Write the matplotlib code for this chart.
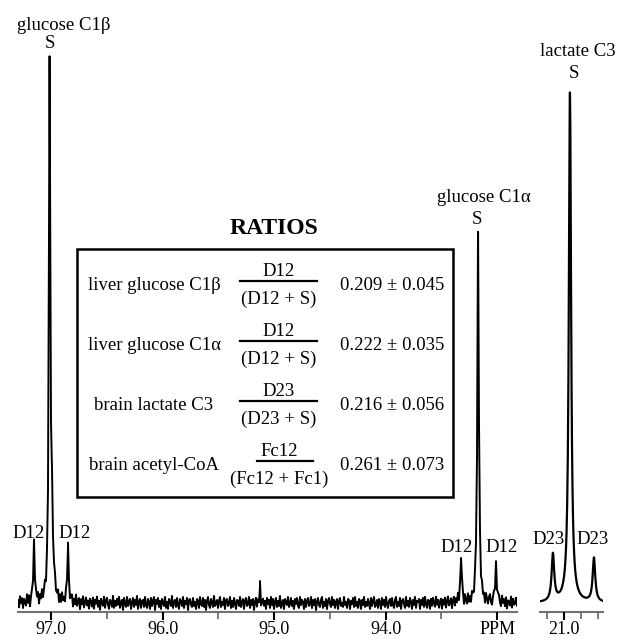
import numpy as np
import matplotlib.pyplot as plt
from matplotlib.lines import Line2D
from matplotlib.patches import Rectangle

plt.rcParams['font.family'] = ['Liberation Serif', 'DejaVu Serif']

W, H = 619, 640

# glucose C1 region: peak position (ppm), height (px above baseline), half width (ppm)
glc_ppm = [97.152, 97.013, 96.993, 96.848, 95.126, 93.323, 93.170, 93.009]
glc_height = [56, 524, 85, 53, 16, 44, 371, 40]
glc_hwhm = [0.008, 0.007, 0.012, 0.008, 0.004, 0.008, 0.008, 0.008]

# lactate C3 region
lac_ppm = [21.065, 20.965, 20.824]
lac_height = [47, 510, 44]
lac_hwhm = [0.009, 0.008, 0.009]

# baseline noise (px), left to right
baseline_noise = [
    2, -5, 6, -1, 4, -6, 3, 0, -4, 7, -2, 5, -7, 1, 4, -3, 6, -5, 2, -1, 5, -6, 3, -2, 6,
    -4, 1, 5, -7, 3, -2, 6, -5, 0, 4, -6, 2, 7, -3, -1, 5, -6, 3, -4, 6, -2, 1, -5, 4, -3,
    6, -1, -5, 3, 5, -6, 2, -3, 7, -4, 1, 4, -7, 3, -2, 6, -5, 0, 5, -3, 2, -6, 4, 1, -4,
    5, -6, 3, -1, 6, -4, 2, -7, 4, 0, -3, 6, -5, 2, 5, -2, -6, 3, 1, -4, 7, -5, 2, -3, 4,
    -2, 6, -5, 1, 3, -7, 5, -1, -4, 6, -3, 2, 4, -6, 0, 5, -4, 3, -2, 7, -6, 1, 4, -5, 2,
    3, -4, 6, -2, -5, 4, 1, -6, 5, -3, 2, 6, -7, 3, -1, 5, -4, 2, -6, 4, 0, -3, 6, -5, 1,
    -6, 4, 2, -3, 7, -5, 1, 3, -4, 5, -2, -6, 4, 1, -3, 6, -5, 2, -1, 5, -7, 3, 4, -2, -4,
    5, -3, 1, -6, 4, 2, -5, 6, -1, -3, 5, -4, 3, -7, 2, 6, -2, -5, 4, 1, -4, 7, -3, 0, 3,
    -5, 2, 6, -4, 1, -2, 5, -6, 3, 4, -3, -1, 6, -5, 2, -4, 5, 0, -6, 3, 2, -3, 6, -4, 1,
    4, -6, 2, 5, -3, -1, 6, -5, 3, -2, 4, -7, 1, 5, -4, 3, -2, 6, -5, 0, 4, -3, 2, -6, 5,
    -1, 3, -5, 6, -2, 4, -6, 1, 5, -4, 2, -3, 7, -5, 0, 3, -6, 4, 1, -2, 6, -4, -1, 5, -3,
    2, -6, 4, -1, 5, -3, -5, 6, -2, 3, 1, -6, 4, -4, 2, 5, -3, -1, 6, -5, 3, -2, 4, -7, 1,
    5, -2, -4, 3, 6, -5, 1, -3, 4, -6, 2, 5, -1, -4, 6, -2, 3, -5, 1, 4, -6, 2, 5, -3, 0,
    -4, 6, -2, 1, -5, 4, 3, -6, 2, -1, 5, -4, 6, -3, 1, -5, 4, 2, -6, 3, -2, 6, -4, 1, -3,
    4, -1, -6, 5, -3, 2, 6, -4, -2, 3, -5, 4, 1, -6, 5, -2, 3, -4, 6, -1, -5, 2, 4, -3, 5,
    -2, -5, 3, 6, -4, 1, -3, 5, -6, 2, 4, -1, -5, 6, -3, 2, -4, 5, 1, -6, 3, -2, 6, -5, 2,
    1, 4, -6, 3, -2, 5, -4, 6, -1, -5, 3, 2, -6, 4, -3, 5, 0, -4, 6, -2, 3, -5, 1, 4, -6,
    3, -2, 5, -5, 1, 6, -3, -1, 4, -6, 2, 5, -4, 3, -2, 6, -5, 1, -3, 4, 2, -6, 5, -1, -4,
    6, -3, 2, -5, 4, -1, -6, 5, 3, -4, 1, -2, 6, -5, 4, -3, 2, -6, 5, 0, -4, 3, 6, -2, -5,
    2, 5, -4, 1, -6, 3, 4, -2, -5, 6, -1, 3, -4, 5, -6, 2, 1, -3, 6, -5, 4, -2, -1, 5, -3,
]

glc_ticks = [97.0, 96.0, 95.0, 94.0, 93.0]
glc_ticklabels = ['97.0', '96.0', '95.0', '94.0', 'PPM']
glc_minor = [96.5, 95.5, 94.5, 93.5]
lac_ticks = [21.0]
lac_ticklabels = ['21.0']
lac_minor = [21.1, 20.9, 20.8]

ratio_names = ['liver glucose C1\u03b2', 'liver glucose C1\u03b1',
               'brain lactate C3', 'brain acetyl-CoA']
ratio_num = ['D12', 'D12', 'D23', 'Fc12']
ratio_den = ['(D12 + S)', '(D12 + S)', '(D23 + S)', '(Fc12 + Fc1)']
ratio_val = ['0.209 \u00b1 0.045', '0.222 \u00b1 0.035',
             '0.216 \u00b1 0.056', '0.261 \u00b1 0.073']


def lorentz_sum(x, centers, heights, widths):
    y = np.zeros_like(x)
    for c, h, w in zip(centers, heights, widths):
        y += h / (1 + ((x - c) / w) ** 2)
    return y


def fx(x):
    return x / W


def fy(y):
    return 1 - y / H


fig = plt.figure(figsize=(W / 100, H / 100), dpi=100)

ax_bottom, ax_top = 611.5, 30
ylim = (-(ax_bottom - 603), 603 - ax_top)
ax1 = fig.add_axes([fx(18), fy(ax_bottom), 499 / W, (ax_bottom - ax_top) / H])
ax2 = fig.add_axes([fx(540), fy(ax_bottom), 63 / W, (ax_bottom - ax_top) / H])

glc_lim = (97.296, 92.821)
lac_lim = (21.141, 20.771)

# glucose trace: noise samples plus the peak centres
grid = np.linspace(glc_lim[0], glc_lim[1], len(baseline_noise))
x1 = np.concatenate([grid, glc_ppm])
y1 = np.concatenate([baseline_noise, np.zeros(len(glc_ppm))])
order = np.argsort(x1)
x1, y1 = x1[order], y1[order]
y1 = y1 + lorentz_sum(x1, glc_ppm, glc_height, glc_hwhm)
ax1.plot(x1, y1, color='black', lw=1.4, zorder=3)

x2 = np.sort(np.concatenate([np.linspace(lac_lim[0], lac_lim[1], 300), lac_ppm]))
y2 = lorentz_sum(x2, lac_ppm, lac_height, lac_hwhm)
ax2.plot(x2, y2, color='black', lw=1.6, zorder=3)

for ax, lim, maj, lab, mnr in [(ax1, glc_lim, glc_ticks, glc_ticklabels, glc_minor),
                               (ax2, lac_lim, lac_ticks, lac_ticklabels, lac_minor)]:
    ax.set_xlim(*lim)
    ax.set_ylim(*ylim)
    ax.patch.set_visible(False)
    for s in ['top', 'left', 'right']:
        ax.spines[s].set_visible(False)
    ax.spines['bottom'].set_color('0.45')
    ax.spines['bottom'].set_linewidth(1.5)
    ax.spines['bottom'].set_zorder(1)
    ax.set_yticks([])
    ax.set_xticks(maj)
    ax.set_xticklabels(lab)
    ax.set_xticks(mnr, minor=True)
    ax.tick_params(axis='x', which='major', direction='out', length=6, width=1.5,
                   color='black', labelsize=13, pad=0.5)
    ax.tick_params(axis='x', which='minor', direction='out', length=5, width=1.2,
                   color='0.4')

# peak labels
lbl = dict(ha='center', va='center', fontsize=13.5)
fig.text(fx(64), fy(25), 'glucose C1\u03b2', **lbl)
fig.text(fx(50), fy(44), 'S', **lbl)
fig.text(fx(578), fy(51), 'lactate C3', **lbl)
fig.text(fx(574), fy(74), 'S', **lbl)
fig.text(fx(484), fy(197), 'glucose C1\u03b1', **lbl)
fig.text(fx(477), fy(219), 'S', **lbl)
fig.text(fx(29), fy(534), 'D12', **lbl)
fig.text(fx(75), fy(534), 'D12', **lbl)
fig.text(fx(457), fy(548), 'D12', **lbl)
fig.text(fx(502), fy(548), 'D12', **lbl)
fig.text(fx(549), fy(540), 'D23', **lbl)
fig.text(fx(593), fy(540), 'D23', **lbl)

# ratios table
fig.text(fx(274), fy(229), 'RATIOS', ha='center', va='center',
         fontsize=17, fontweight='bold')
fig.patches.append(Rectangle((fx(77), fy(497)), (453 - 77) / W, (497 - 249) / H,
                             transform=fig.transFigure, fill=False,
                             edgecolor='black', lw=1.8))

row_y = [285, 345, 405, 465]
line_x = [(240, 317), (240, 317), (240, 317), (257, 313)]
for i, yc in enumerate(row_y):
    fig.text(fx(154), fy(yc), ratio_names[i], ha='center', va='center', fontsize=13.5)
    fig.text(fx(279), fy(yc - 13), ratio_num[i], ha='center', va='center', fontsize=13.5)
    fig.text(fx(279), fy(yc + 14), ratio_den[i], ha='center', va='center', fontsize=13.5)
    fig.text(fx(392), fy(yc), ratio_val[i], ha='center', va='center', fontsize=13.5)
    x0, x1_ = line_x[i]
    fig.lines.append(Line2D([fx(x0), fx(x1_)], [fy(yc - 4), fy(yc - 4)],
                            transform=fig.transFigure, color='black', lw=1.6))

fig.savefig('out.png', dpi=100)
